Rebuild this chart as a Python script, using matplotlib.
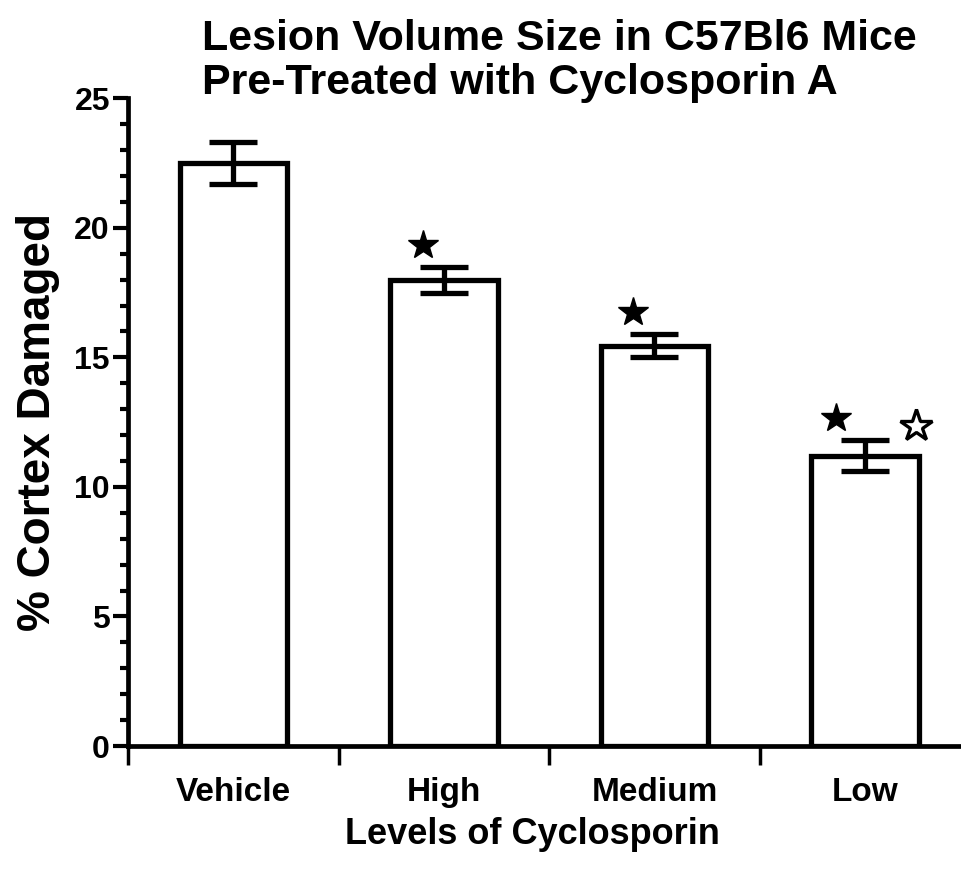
import numpy as np
import matplotlib
matplotlib.use("Agg")
import matplotlib.pyplot as plt

# values
groups = ["Vehicle", "High", "Medium", "Low"]
damage = [22.5, 18.0, 15.45, 11.2]
sem = [0.8, 0.5, 0.45, 0.6]
sig_vehicle = [False, True, True, True]   # filled star
sig_high = [False, False, False, True]    # open star

plt.rcParams["font.family"] = ["Liberation Sans", "DejaVu Sans"]
plt.rcParams["font.weight"] = "bold"
plt.rcParams["axes.labelweight"] = "bold"

fig = plt.figure(figsize=(9.62, 8.85), dpi=100)
ax = fig.add_axes([0.133, 0.157, 0.867, 0.732])

x = np.arange(len(groups))
ax.bar(x, damage, width=0.51, color="white", edgecolor="black", linewidth=3.8, zorder=2)
ax.errorbar(x, damage, yerr=sem, fmt="none", ecolor="black", elinewidth=3.8,
            capsize=17, capthick=3.8, zorder=3)

for i in range(len(groups)):
    top = damage[i] + sem[i]
    if sig_vehicle[i]:
        xs = x[i] - 0.14 if sig_high[i] else x[i] - 0.1
        ax.plot(xs, top + 0.85, marker="*", ms=22, color="black", zorder=4)
    if sig_high[i]:
        ax.plot(x[i] + 0.24, top + 0.55, marker="*", ms=24, markerfacecolor="white",
                markeredgecolor="black", markeredgewidth=2.4, zorder=4)

ax.set_xlim(-0.5, 3.46)
ax.set_ylim(0, 25)
ax.spines["top"].set_visible(False)
ax.spines["right"].set_visible(False)
ax.spines["left"].set_linewidth(3.4)
ax.spines["bottom"].set_linewidth(3.4)

ax.set_yticks([0, 5, 10, 15, 20, 25])
ax.set_yticks(np.arange(0, 26, 1), minor=True)
ax.tick_params(axis="y", which="major", length=11, width=3, labelsize=23, pad=2)
ax.tick_params(axis="y", which="minor", length=6, width=3)

ax.set_xticks([-0.5, 0.5, 1.5, 2.5])
ax.set_xticklabels([])
ax.tick_params(axis="x", which="major", length=14, width=2.5)
ax.set_xticks(x, groups, minor=True)
ax.tick_params(axis="x", which="minor", length=0, labelsize=24, pad=22)

ax.set_ylabel("% Cortex Damaged", fontsize=33, labelpad=10)
ax.set_xlabel("Levels of Cyclosporin", fontsize=26, labelpad=8)
ax.xaxis.set_label_coords(0.485, -0.11)

fig.text(0.21, 0.978, "Lesion Volume Size in C57Bl6 Mice\nPre-Treated with Cyclosporin A",
         fontsize=31, va="top", ha="left", linespacing=1.12)

fig.savefig("out.png", dpi=100)
